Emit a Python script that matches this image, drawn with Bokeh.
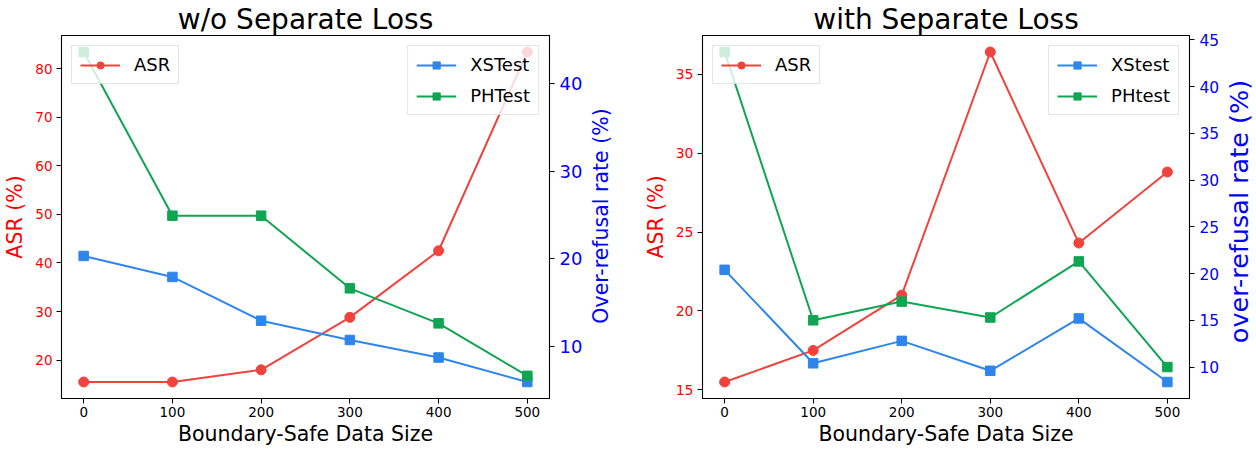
import math
from bokeh.plotting import figure
from bokeh.models import Range1d, LinearAxis, FixedTicker, Legend, LegendItem, Label
from bokeh.layouts import row
from bokeh.embed import file_html
from bokeh.resources import INLINE

# ---------------- data ----------------
sizes = [0, 100, 200, 300, 400, 500]
x_ticks = [0, 100, 200, 300, 400, 500]

# w/o Separate Loss
asr_wo = [15.5, 15.5, 18.0, 28.8, 42.5, 83.4]
xstest_wo = [20.3, 17.9, 12.9, 10.7, 8.7, 5.9]
phtest_wo = [43.6, 24.9, 24.9, 16.6, 12.6, 6.6]

# with Separate Loss
asr_w = [15.5, 17.5, 21.0, 36.4, 24.3, 28.8]
xstest_w = [20.4, 10.4, 12.8, 9.6, 15.2, 8.4]
phtest_w = [43.7, 15.0, 17.0, 15.3, 21.3, 10.0]

left_ticks_wo = [20, 30, 40, 50, 60, 70, 80]
right_ticks_wo = [10, 20, 30, 40]
left_ticks_w = [15, 20, 25, 30, 35]
right_ticks_w = [10, 15, 20, 25, 30, 35, 40, 45]

RED = "#f0433c"
BLUE = "#2e86eb"
GREEN = "#0fa552"
FONT = "DejaVu Sans"
FH = 365
TOP, BOTTOM = 33, 51


def padded(*series):
    vals = [v for s in series for v in s]
    lo, hi = min(vals), max(vals)
    pad = 0.05 * (hi - lo)
    return Range1d(lo - pad, hi + pad)


def style_legend(lg):
    lg.label_text_font = FONT
    lg.label_text_font_size = "18px"
    lg.label_text_color = "black"
    lg.glyph_width = 40
    lg.glyph_height = 18
    lg.label_height = 18
    lg.label_standoff = 14
    lg.padding = 8
    lg.spacing = 10
    lg.margin = 10
    lg.border_line_color = "#cccccc"
    lg.border_line_width = 1
    lg.background_fill_alpha = 0.8


def panel(width, title, asr, xs, ph, lab_xs, lab_ph, lticks, rticks,
          mb_left, mb_right, ltick_size, rtick_size):
    xsx = [min(sizes), max(sizes)]
    xpad = 0.05 * (xsx[1] - xsx[0])
    p = figure(width=width, height=449, output_backend="svg", toolbar_location=None,
               x_range=Range1d(xsx[0] - xpad, xsx[1] + xpad), y_range=padded(asr),
               min_border_left=mb_left, min_border_right=mb_right,
               min_border_top=TOP, min_border_bottom=BOTTOM, title=title)
    p.extra_y_ranges = {"right": padded(xs, ph)}
    p.title.text_font = FONT
    p.title.text_font_size = "28px"
    p.title.text_font_style = "normal"
    p.title.text_color = "black"
    p.title.align = "center"
    p.title.standoff = 0
    p.xgrid.visible = False
    p.ygrid.visible = False
    p.outline_line_color = "black"
    p.outline_line_width = 1.1
    p.outline_line_alpha = 1.0
    p.background_fill_color = "white"
    p.border_fill_color = "white"

    xa = p.xaxis[0]
    xa.ticker = FixedTicker(ticks=x_ticks)
    xa.axis_label = "Boundary-Safe Data Size"
    xa.axis_label_text_font = FONT
    xa.axis_label_text_font_size = "20.5px"
    xa.axis_label_text_font_style = "normal"
    xa.axis_label_text_color = "black"
    xa.axis_label_standoff = 2
    xa.major_label_text_font = FONT
    xa.major_label_text_font_size = "13.5px"
    xa.major_label_text_color = "black"
    xa.major_label_standoff = 3

    ya = p.yaxis[0]
    ya.ticker = FixedTicker(ticks=lticks)
    ya.axis_label = "ASR (%)"
    ya.axis_label_text_font = FONT
    ya.axis_label_text_font_size = "20.5px"
    ya.axis_label_text_font_style = "normal"
    ya.axis_label_text_color = "#ff0000"
    ya.axis_label_standoff = 5
    ya.major_label_text_font = FONT
    ya.major_label_text_font_size = ltick_size
    ya.major_label_text_color = "#ff0000"
    ya.major_label_standoff = 4

    ra = LinearAxis(y_range_name="right", ticker=FixedTicker(ticks=rticks))
    ra.major_label_text_font = FONT
    ra.major_label_text_font_size = rtick_size
    ra.major_label_text_color = "#0000ff"
    ra.major_label_standoff = 5
    p.add_layout(ra, "right")

    for ax in (xa, ya, ra):
        ax.major_tick_out = 5
        ax.major_tick_in = 0
        ax.minor_tick_out = 0
        ax.minor_tick_in = 0
        ax.axis_line_color = "black"
        ax.major_tick_line_color = "black"

    l1 = p.line(sizes, asr, line_color=RED, line_width=2)
    s1 = p.scatter(sizes, asr, marker="circle", size=10, color=RED)
    l2 = p.line(sizes, xs, line_color=BLUE, line_width=2, y_range_name="right")
    s2 = p.scatter(sizes, xs, marker="square", size=9.5, color=BLUE, y_range_name="right")
    l3 = p.line(sizes, ph, line_color=GREEN, line_width=2, y_range_name="right")
    s3 = p.scatter(sizes, ph, marker="square", size=9.5, color=GREEN, y_range_name="right")

    lg1 = Legend(items=[LegendItem(label="ASR", renderers=[l1, s1])], location="top_left")
    style_legend(lg1)
    lg1.level = "underlay"
    p.add_layout(lg1)
    lg2 = Legend(items=[LegendItem(label=lab_xs, renderers=[l2, s2]),
                        LegendItem(label=lab_ph, renderers=[l3, s3])], location="top_right")
    style_legend(lg2)
    p.add_layout(lg2)
    return p


def side_label(width, text, size, cx, cy):
    q = figure(width=width, height=449, output_backend="svg", toolbar_location=None,
               x_axis_location=None, y_axis_location=None,
               x_range=Range1d(0, 1), y_range=Range1d(0, 1),
               min_border_left=0, min_border_right=0,
               min_border_top=TOP, min_border_bottom=BOTTOM)
    q.outline_line_color = None
    q.xgrid.visible = False
    q.ygrid.visible = False
    q.background_fill_color = "white"
    q.border_fill_color = "white"
    q.add_layout(Label(x=cx, y=cy, x_units="screen", y_units="screen",
                       text=text, text_font=FONT, text_font_size=size,
                       text_color="#0000ff", text_align="center",
                       text_baseline="middle", angle=math.pi / 2))
    return q


p1 = panel(586, "w/o Separate Loss", asr_wo, xstest_wo, phtest_wo, "XSTest", "PHTest",
           left_ticks_wo, right_ticks_wo, 60, 37, "13.5px", "18px")
q1 = side_label(42, "Over-refusal rate (%)", "20.5px", 14, FH / 2)
p2 = panel(594, "with Separate Loss", asr_w, xstest_w, phtest_w, "XStest", "PHtest",
           left_ticks_w, right_ticks_w, 74, 31, "14px", "15.5px")
q2 = side_label(34, "over-refusal rate (%)", "25.5px", 16, 187)

layout = row(p1, q1, p2, q2, spacing=0)
open("out.html", "w").write(file_html(layout, INLINE))
